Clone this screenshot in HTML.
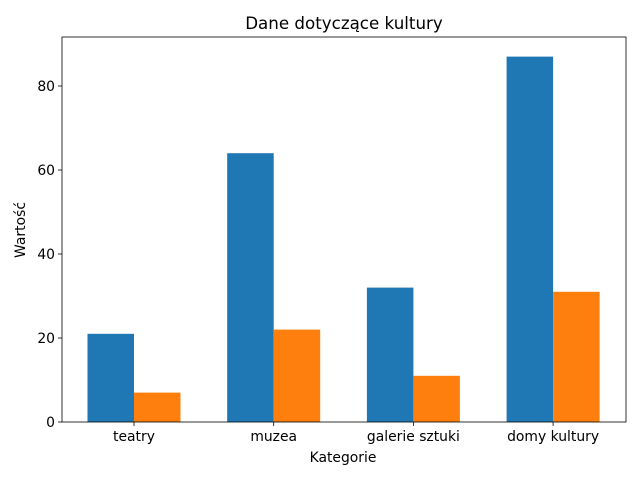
<!DOCTYPE html>
<html><head><meta charset="utf-8"><style>
body{margin:0;background:#fff;}
svg text{font-family:"DejaVu Sans","Liberation Sans",sans-serif;fill:#000;}
</style></head><body>
<svg id="chart" width="640" height="480" xmlns="http://www.w3.org/2000/svg">
<rect width="640" height="480" fill="#fff"/>
<text x="344" y="29" font-size="16.7" text-anchor="middle">Dane dotyczące kultury</text>
<g id="bars"></g>
<g id="axes"></g>
<text x="343" y="462" font-size="13.9" text-anchor="middle">Kategorie</text>
<text transform="translate(25,230) rotate(-90)" font-size="13.9" text-anchor="middle">Wartość</text>
</svg>
<script>
const categories=["teatry","muzea","galerie sztuki","domy kultury"];
const series1=[21,64,32,87];
const series2=[7,22,11,31];
const yTicks=[0,20,40,60,80];
const ns="http://www.w3.org/2000/svg";
const L=62,R=626,T=37,B=422,yMax=91.67;
const y=v=>B-(v/yMax)*(B-T);
const xc=i=>134+139.7*i;
const bw=46.5;
const bars=document.getElementById('bars');
const axes=document.getElementById('axes');
function mk(tag,attrs,parent){const e=document.createElementNS(ns,tag);for(const k in attrs)e.setAttribute(k,attrs[k]);parent.appendChild(e);return e;}
categories.forEach((c,i)=>{
  const a=mk('rect',{x:xc(i)-bw,y:y(series1[i]),width:bw,height:B-y(series1[i]),fill:'#1f77b4'},bars);
  
  
  const b=mk('rect',{x:xc(i),y:y(series2[i]),width:bw,height:B-y(series2[i]),fill:'#ff7f0e'},bars);
  
  
  mk('line',{x1:xc(i),x2:xc(i),y1:B,y2:B+4,stroke:'#000','stroke-width':0.8},axes);
  const t=mk('text',{x:xc(i),y:B+19,'font-size':13.9,'text-anchor':'middle'},axes);
  t.textContent=c;
  
  
});
yTicks.forEach(v=>{
  mk('line',{x1:L-4,x2:L,y1:y(v),y2:y(v),stroke:'#000','stroke-width':0.8},axes);
  const t=mk('text',{x:L-7,y:y(v)+5,'font-size':13.9,'text-anchor':'end'},axes);
  t.textContent=v;
  
  
});
const f=mk('rect',{x:L,y:T,width:R-L,height:B-T,fill:'none',stroke:'#000','stroke-width':0.8},axes);


</script>
</body></html>
